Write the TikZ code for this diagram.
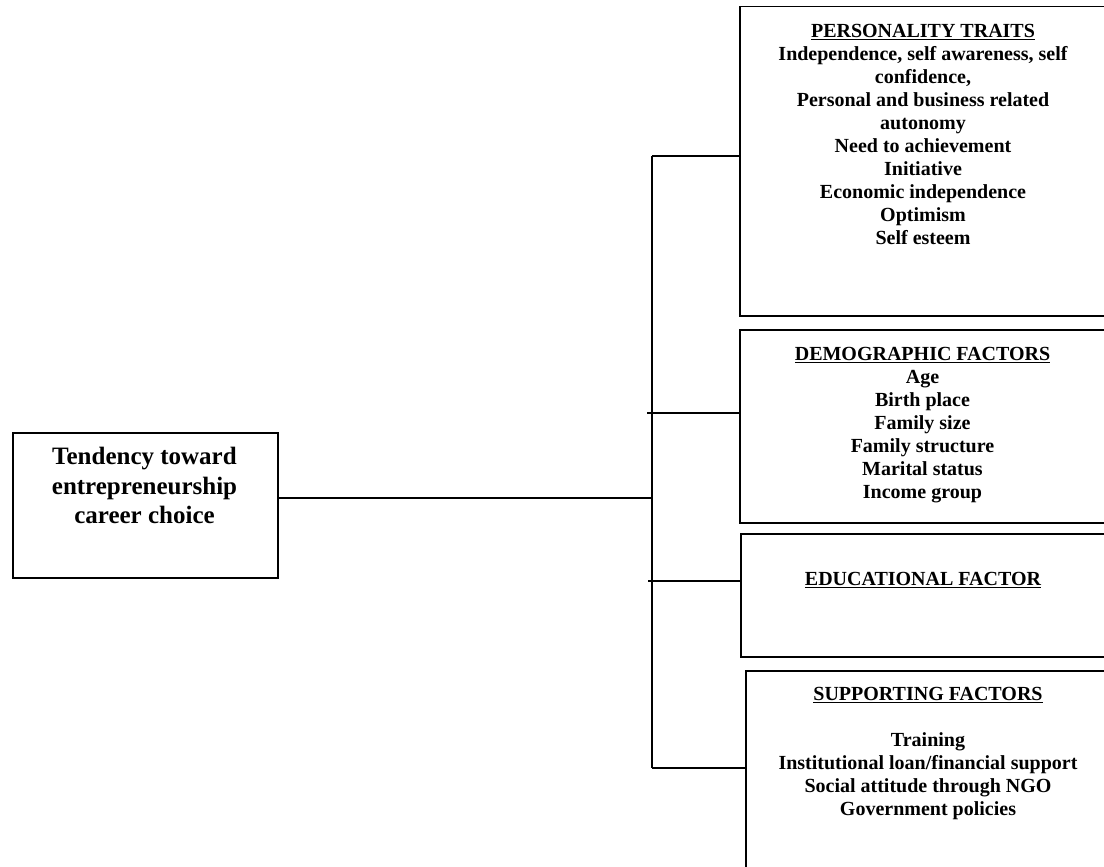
\documentclass[tikz,border=0pt]{standalone}
\usepackage{fontspec}
\setmainfont{Liberation Serif}
\begin{document}
\begin{tikzpicture}[x=1pt,y=-1pt,
  box/.style={draw,line width=1.5pt,rectangle,inner sep=0pt,anchor=north west},
  txt/.style={anchor=north,inner sep=0pt,align=center,font=\bfseries\fontsize{20}{23}\selectfont},
  link/.style={line width=1.5pt}]
\useasboundingbox (0,0) rectangle (1104,867);
\clip (0,0) rectangle (1104,867);
% main box
\node[box,minimum width=265pt,minimum height=145pt] (main) at (12,432) {};
\node[txt,font=\bfseries\fontsize{25}{29.5}\selectfont] (maint) at (144.5,447)
  {Tendency toward\\entrepreneurship\\career choice};
% factor boxes
\node[box,minimum width=372pt,minimum height=309pt] (pers) at (739,6) {};
\node[box,minimum width=372pt,minimum height=193pt] (demo) at (739,329) {};
\node[box,minimum width=372pt,minimum height=123pt] (edu) at (740,533) {};
\node[box,minimum width=372pt,minimum height=220pt] (supp) at (745,670) {};
\node[txt] (perst) at (923,23.8) {\underline{PERSONALITY TRAITS}\\
  Independence, self awareness, self\\confidence,\\Personal and business related\\
  autonomy\\Need to achievement\\Initiative\\Economic independence\\Optimism\\Self esteem};
\node[txt] (demot) at (922.5,346.8) {\underline{DEMOGRAPHIC FACTORS}\\Age\\Birth place\\
  Family size\\Family structure\\Marital status\\Income group};
\node[txt] (edut) at (923,571.8) {\underline{EDUCATIONAL FACTOR}};
\node[txt] (suppt) at (928,686.8) {\underline{SUPPORTING FACTORS}\\[23pt]Training\\
  Institutional loan/financial support\\Social attitude through NGO\\Government policies};
% connectors
\coordinate (s1) at (652,156);
\coordinate (s2) at (652,413);
\coordinate (s3) at (652,581);
\coordinate (s4) at (652,768);
\coordinate (j) at (652,498);
\draw[link] (s1) -- (s4);
\draw[link] (main.east |- j) -- (j);
\draw[link] (s1) -- (s1 -| pers.west);
\draw[link] ([xshift=-5pt]s2) -- (s2 -| demo.west);
\draw[link] ([xshift=-4pt]s3) -- (s3 -| edu.west);
\draw[link] (s4) -- (s4 -| supp.west);
\end{tikzpicture}
\end{document}
